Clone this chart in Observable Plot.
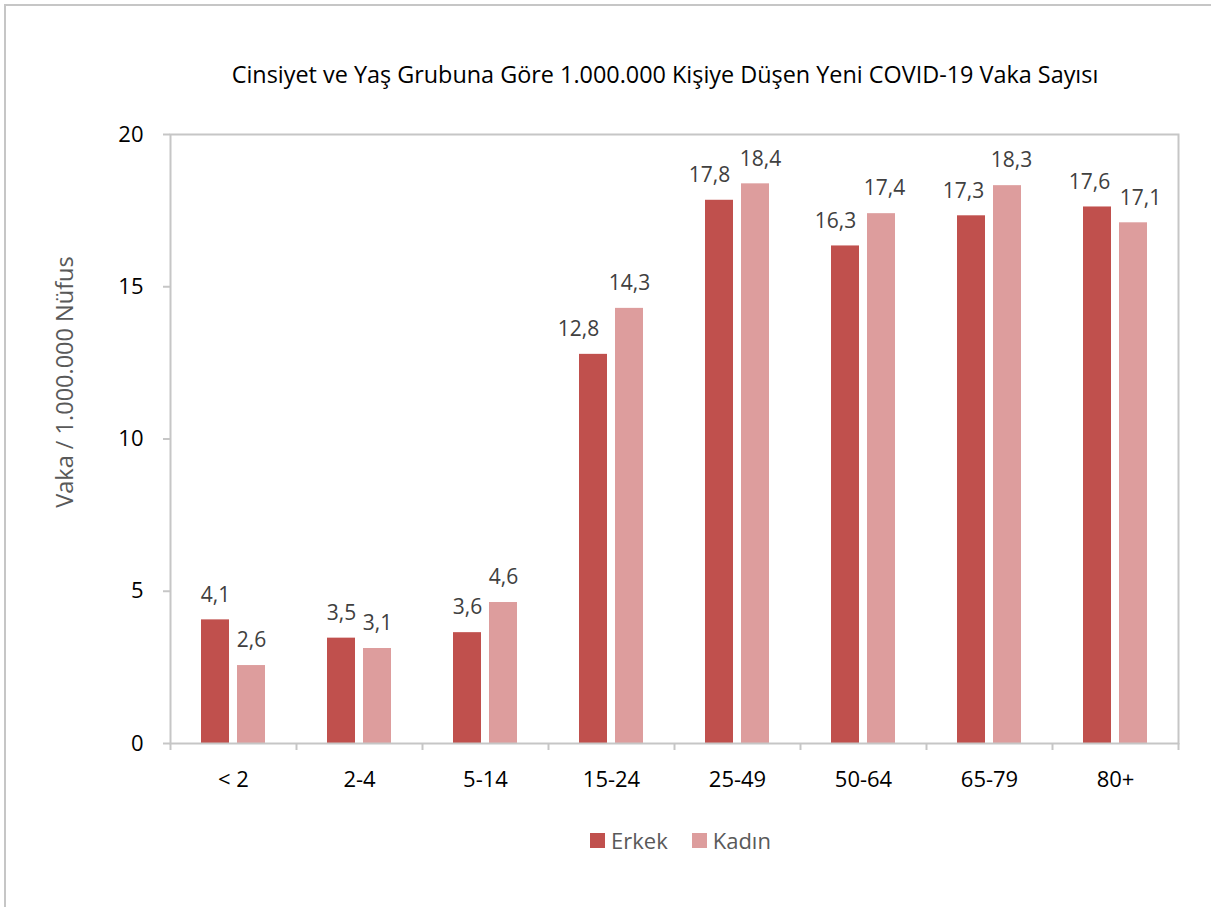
<!DOCTYPE html>
<html>
<head>
<meta charset="utf-8">
<script src="https://cdn.jsdelivr.net/npm/d3@7"></script>
<script src="https://cdn.jsdelivr.net/npm/@observablehq/plot@0.6"></script>
<style>
  body { margin: 0; background: #fff; font-family: "Open Sans", sans-serif; }
  #wrap { position: relative; width: 1211px; height: 907px; overflow: hidden; background: #fff; }
  #frame { position: absolute; left: 4px; top: 4px; width: 1400px; height: 1100px;
           border-top: 2px solid #c6c6c6; border-left: 2px solid #c6c6c6; }
  #title { position: absolute; top: 58px; left: 665px; transform: translateX(-50%);
           white-space: nowrap; font-size: 23.4px; line-height: 32px; color: #000; }
  #chart { position: absolute; top: 100px; left: 0; }
  #legend { position: absolute; top: 825px; left: 590px; display: flex; align-items: center;
            font-size: 22px; color: #595959; white-space: nowrap; }
  .sw { width: 15px; height: 15px; display: inline-block; margin-right: 6px; }
  .item { display: flex; align-items: center; margin-right: 24px; }
</style>
</head>
<body>
<div id="wrap">
  <div id="frame"></div>
  <div id="title">Cinsiyet ve Yaş Grubuna Göre 1.000.000 Kişiye Düşen Yeni COVID-19 Vaka Sayısı</div>
  <div id="chart"></div>
  <div id="legend"></div>
</div>
<script>
const categories = ["< 2", "2-4", "5-14", "15-24", "25-49", "50-64", "65-79", "80+"];
const series = ["Erkek", "Kadın"];
const colors = ["#C0504D", "#DD9D9D"];
const erkek = [4.06, 3.46, 3.64, 12.78, 17.84, 16.34, 17.33, 17.62];
const kadin = [2.56, 3.12, 4.63, 14.29, 18.38, 17.40, 18.32, 17.10];
const yTicks = [0, 5, 10, 15, 20];
const yLabel = "Vaka / 1.000.000 Nüfus";

// horizontal nudges of individual value labels (pixels), as placed in the original
const erkekLabelNudge = [0, 0, 0, -15, -10, -10, -8, -8];
const kadinLabelNudge = [0, 0, 0, 0, 5, 3, 4, 7];

const W = 1211, H = 710, mL = 170, mR = 33, mT = 34, mB = 67;
const half = (W - mL - mR) / categories.length / 2;

const erkData = categories.map((c, i) => ({cat: c, sex: series[0], v: erkek[i]}));
const kadData = categories.map((c, i) => ({cat: c, sex: series[1], v: kadin[i]}));
const fmt = v => d3.format(".1f")(v).replace(".", ",");

const labelMarks = [
  ...erkData.map((d, i) => Plot.text([d], {x: "cat", y: "v", text: d => fmt(d.v), dx: -18 + erkekLabelNudge[i], dy: -25, fill: "#404040", fontSize: 21})),
  ...kadData.map((d, i) => Plot.text([d], {x: "cat", y: "v", text: d => fmt(d.v), dx: 18 + kadinLabelNudge[i], dy: -25, fill: "#404040", fontSize: 21}))
];

const chart = Plot.plot({
  width: W, height: H,
  marginLeft: mL, marginRight: mR, marginTop: mT, marginBottom: mB,
  style: {fontFamily: '"Open Sans", sans-serif', color: "#000", background: "transparent", overflow: "visible"},
  x: {domain: categories, padding: 0, axis: null},
  y: {domain: [0, 20], axis: null},
  color: {domain: series, range: colors},
  marks: [
    Plot.barY(erkData, {x: "cat", y: "v", fill: "sex", insetLeft: 31, insetRight: 67}),
    Plot.barY(kadData, {x: "cat", y: "v", fill: "sex", insetLeft: 67, insetRight: 31}),
    Plot.frame({stroke: "#c6c6c6", strokeWidth: 2}),
    Plot.ruleY(yTicks, {y: d => d, stroke: "#c6c6c6", strokeWidth: 2, insetLeft: -7, insetRight: W - mL - mR}),
    Plot.ruleX(categories, {x: d => d, y1: 0, y2: 0, dx: -half, insetBottom: -7, stroke: "#c6c6c6", strokeWidth: 2}),
    Plot.ruleX(categories.slice(-1), {x: d => d, y1: 0, y2: 0, dx: half, insetBottom: -7, stroke: "#c6c6c6", strokeWidth: 2}),
    Plot.axisY({ticks: yTicks, tickSize: 0, tickPadding: 27, fontSize: 22, label: null, tickFormat: d => d}),
    Plot.axisX({tickSize: 0, tickPadding: 28, fontSize: 22, label: null}),
    ...labelMarks,
    Plot.text([yLabel], {frameAnchor: "left", textAnchor: "middle", text: d => d, rotate: -90, dx: -105, dy: -57, fill: "#595959", fontSize: 23.5})
  ]
});
document.getElementById("chart").appendChild(chart);

const legend = document.getElementById("legend");
series.forEach((s, i) => {
  const item = document.createElement("span");
  item.className = "item";
  const sw = document.createElement("span");
  sw.className = "sw";
  sw.style.background = colors[i];
  item.appendChild(sw);
  item.appendChild(document.createTextNode(s));
  legend.appendChild(item);
});
</script>
</body>
</html>
